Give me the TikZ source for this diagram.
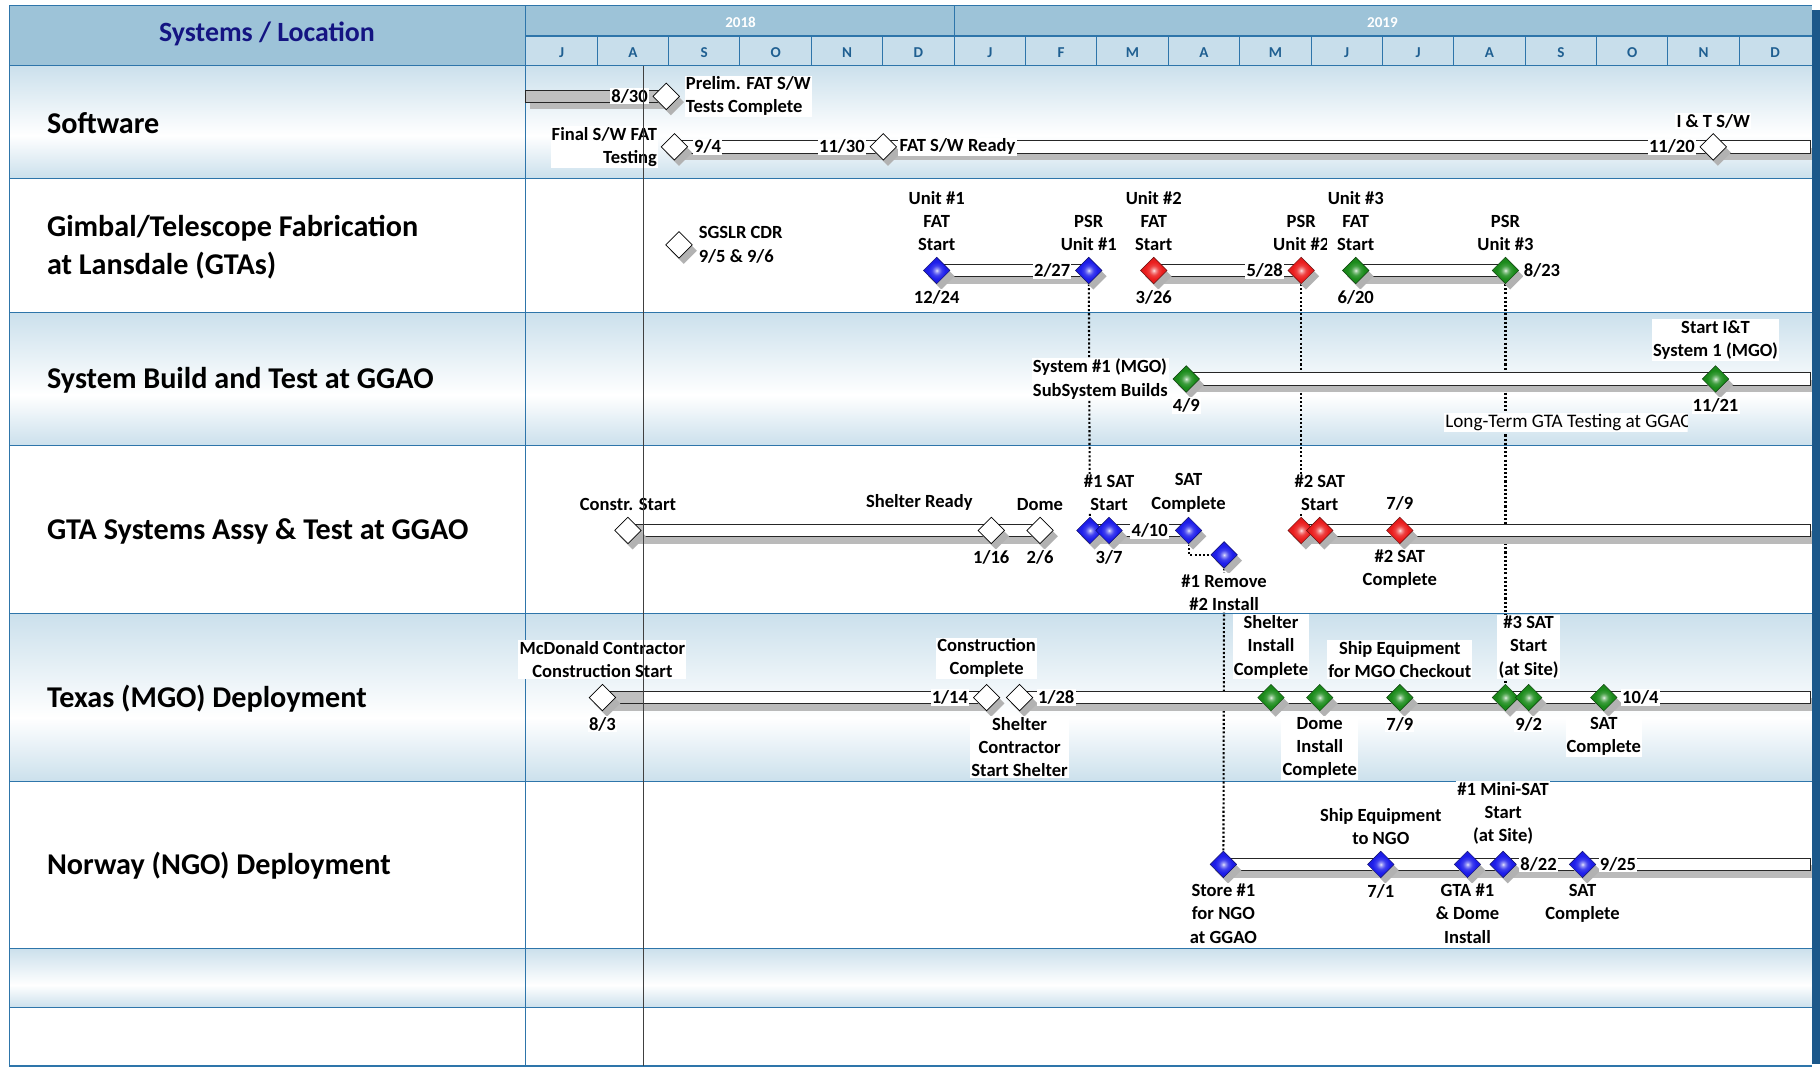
\documentclass[tikz,border=0pt]{standalone}
\usepackage{fontspec}
\setmainfont{Carlito}
\usepackage{tikz}
\usetikzlibrary{shapes.geometric, positioning, calc, shadows}

\definecolor{hdrdark}{RGB}{157,195,216}
\definecolor{hdrlight}{RGB}{200,222,235}
\definecolor{rowblue}{RGB}{203,224,236}
\definecolor{gridblue}{RGB}{46,117,170}
\definecolor{navytxt}{RGB}{20,20,130}
\definecolor{monthtxt}{RGB}{31,95,145}
\definecolor{edgeblue}{RGB}{28,88,138}
\definecolor{msblue}{RGB}{30,30,235}
\definecolor{msred}{RGB}{235,30,30}
\definecolor{msgreen}{RGB}{28,140,28}

\pgfdeclareradialshading{blueglow}{\pgfpointorigin}{color(0bp)=(msblue!10!white); color(3bp)=(msblue!45!white); color(9bp)=(msblue!85!white); color(16bp)=(msblue); color(25bp)=(msblue!92!black); color(50bp)=(msblue!92!black)}
\pgfdeclareradialshading{redglow}{\pgfpointorigin}{color(0bp)=(msred!10!white); color(3bp)=(msred!45!white); color(9bp)=(msred!85!white); color(16bp)=(msred); color(25bp)=(msred!92!black); color(50bp)=(msred!92!black)}
\pgfdeclareradialshading{greenglow}{\pgfpointorigin}{color(0bp)=(msgreen!10!white); color(3bp)=(msgreen!45!white); color(9bp)=(msgreen!85!white); color(16bp)=(msgreen); color(25bp)=(msgreen!92!black); color(50bp)=(msgreen!92!black)}

\pgfdeclarelayer{back}
\pgfdeclarelayer{dots}
\pgfdeclarelayer{bars}
\pgfsetlayers{back,dots,bars,main}

\begin{document}
\begin{tikzpicture}[
    x=1pt, y=-1pt,
    ms/.style={diamond, draw=black, inner sep=0pt, minimum width=23pt, minimum height=23pt,
      drop shadow={shadow xshift=4pt, shadow yshift=-5pt, fill=black!30, opacity=1}},
    whitems/.style={ms, fill=white, line width=0.6pt},
    bluems/.style={ms, draw=msblue!45!black, shade, shading=blueglow},
    redms/.style={ms, draw=msred!45!black, shade, shading=redglow},
    greenms/.style={ms, draw=msgreen!45!black, shade, shading=greenglow},
    lbl/.style={font=\bfseries\fontsize{16}{20}\selectfont, fill=white, inner sep=1pt, align=center},
    rowlbl/.style={font=\bfseries\fontsize{26}{32}\selectfont, anchor=west, align=left},
    bar/.style={draw=black!85, fill=white, line width=0.7pt,
      drop shadow={shadow xshift=4pt, shadow yshift=-6pt, fill=black!27, opacity=1}},
    donebar/.style={bar, fill=black!25},
    link/.style={dash pattern=on 1.8pt off 1.8pt, line width=1.8pt},
    gridline/.style={gridblue, line width=0.9pt}
]
\useasboundingbox (0,0) rectangle (1568,920);

\begin{pgfonlayer}{back}
  \fill[white] (0,0) rectangle (1568,920);
  \fill[hdrdark] (8,5) rectangle (1561,31);
  \fill[hdrdark] (8,5) rectangle (453,56.5);
  \fill[hdrlight] (453,31) rectangle (1561,56.5);
  \foreach \ya/\yb in {56.5/153.5, 269/384, 528.4/673.5, 817/868} {
    \shade[top color=rowblue, bottom color=white] (8,\ya) rectangle (1561,{\ya+0.62*(\yb-\ya)});
    \shade[top color=white, bottom color=rowblue] (8,{\ya+0.62*(\yb-\ya)}) rectangle (1561,\yb);
  }
  \foreach \yy in {5, 56.5, 153.5, 269, 384, 528.4, 673.5, 817, 868, 918.4}
    \draw[gridline] (8,\yy) -- (1561,\yy);
  \draw[gridline] (453,31) -- (1561,31);
  \draw[gridline] (8,5) -- (8,918.4);
  \draw[gridline] (453,5) -- (453,918.4);
  \draw[gridline] (822,5) -- (822,31);
  \foreach \m [count=\i from 0] in {J,A,S,O,N,D,J,F,M,A,M,J,J,A,S,O,N,D} {
    \draw[gridline] ({453+61.5*\i},31) -- ({453+61.5*\i},56.5);
    \node (m\i) [text=monthtxt, font=\bfseries\fontsize{13}{15}\selectfont] at ({453+61.5*(\i+0.5)},45) {\m};
  }
\end{pgfonlayer}

\node (hdr) [text=navytxt, font=\bfseries\fontsize{24}{28}\selectfont] at (230,29) {Systems / Location};
\node (y2018) [text=white, font=\bfseries\fontsize{13}{15}\selectfont] at (638,19.5) {2018};
\node (y2019) [text=white, font=\bfseries\fontsize{13}{15}\selectfont] at (1191,19.5) {2019};

\node (rSoft) [rowlbl] at (37,106) {Software};
\node (rGimbal) [rowlbl] at (37,213) {Gimbal/Telescope Fabrication\\at Lansdale (GTAs)};
\node (rBuild) [rowlbl] at (37,328) {System Build and Test at GGAO};
\node (rGta) [rowlbl] at (37,458) {GTA Systems Assy \& Test at GGAO};
\node (rTexas) [rowlbl] at (37,602) {Texas (MGO) Deployment};
\node (rNorway) [rowlbl] at (37,746) {Norway (NGO) Deployment};

\coordinate (today) at (554,56.5);
\coordinate (todayEnd) at (554,918.4);
\coordinate (swStart) at (453,83);
\coordinate (swEnd) at (1560,126.5);
\coordinate (sbEnd) at (1560,326.5);
\coordinate (gtEnd) at (1560,457);
\coordinate (txEnd) at (1560,601);
\coordinate (nwEnd) at (1560,744.7);

\node (sw1) [whitems] at (574,83) {};
\node (sw2) [whitems] at (581,126.5) {};
\node (sw3) [whitems] at (761,126.5) {};
\node (sw4) [whitems] at (1476,126.5) {};
\node (sw1d) [lbl, left=3pt of sw1] {8/30};
\node (sw1t) [lbl, right=4pt of sw1, align=left] {Prelim. FAT S/W\\Tests Complete};
\node (sw2t) [lbl, left=2pt of sw2, align=right] {Final S/W FAT\\Testing};
\node (sw2d) [lbl, right=4pt of sw2] {9/4};
\node (sw3d) [lbl, left=3pt of sw3] {11/30};
\node (sw3t) [lbl, right=1pt of sw3] {FAT S/W Ready};
\node (sw4d) [lbl, left=3pt of sw4] {11/20};
\node (sw4t) [lbl, above=3pt of sw4] {I \& T S/W};

\node (cdr) [whitems] at (585,211) {};
\node (cdrt) [lbl, right=4pt of cdr, align=left] {SGSLR CDR\\9/5 \& 9/6};
\node (gb1) [bluems] at (807,233) {};
\node (gb2) [bluems] at (938,233) {};
\node (gb3) [redms] at (994,233) {};
\node (gb4) [redms] at (1121,233) {};
\node (gb5) [greenms] at (1168,233) {};
\node (gb6) [greenms] at (1297,233) {};
\node (gb1t) [lbl, above=4pt of gb1] {Unit \#1\\FAT\\Start};
\node (gb1d) [lbl, below=4pt of gb1] {12/24};
\node (gb2t) [lbl, above=4pt of gb2] {PSR\\Unit \#1};
\node (gb2d) [lbl, left=3pt of gb2] {2/27};
\node (gb3t) [lbl, above=4pt of gb3] {Unit \#2\\FAT\\Start};
\node (gb3d) [lbl, below=4pt of gb3] {3/26};
\node (gb4t) [lbl, above=4pt of gb4] {PSR\\Unit \#2};
\node (gb4d) [lbl, left=3pt of gb4] {5/28};
\node (gb5t) [lbl, above=4pt of gb5] {Unit \#3\\FAT\\Start};
\node (gb5d) [lbl, below=4pt of gb5] {6/20};
\node (gb6t) [lbl, above=4pt of gb6] {PSR\\Unit \#3};
\node (gb6d) [lbl, right=3pt of gb6] {8/23};

\node (sb1) [greenms] at (1022,326.5) {};
\node (sb2) [greenms] at (1478,326.5) {};
\node (sb1t) [lbl, left=3pt of sb1, align=left] {System \#1 (MGO)\\SubSystem Builds};
\node (sb1d) [lbl, below=4pt of sb1] {4/9};
\node (sb2t) [lbl, above=4pt of sb2] {Start I\&T\\System 1 (MGO)};
\node (sb2d) [lbl, below=4pt of sb2] {11/21};
\begin{scope}
  \clip (1240,350) rectangle (1454,378);
  \node (longterm) [lbl, font=\fontsize{16.5}{20}\selectfont, anchor=west] at (1244,364) {Long-Term GTA Testing at GGAO};
\end{scope}

\node (gt1) [whitems] at (541,457) {};
\node (gt2) [whitems] at (854,457) {};
\node (gt3) [whitems] at (896,457) {};
\node (gt4) [bluems] at (939,457) {};
\node (gt5) [bluems] at (955.5,457) {};
\node (gt6) [bluems] at (1024,457) {};
\node (gt7) [bluems] at (1054.6,478) {};
\node (gt8) [redms] at (1121,457) {};
\node (gt9) [redms] at (1137,457) {};
\node (gt10) [redms] at (1206,457) {};
\node (gt1t) [lbl, above=4pt of gt1] {Constr. Start};
\node (gt2t) [lbl, above=4pt of gt2, xshift=-62pt] {Shelter Ready};
\node (gt2d) [lbl, below=4pt of gt2] {1/16};
\node (gt3t) [lbl, above=4pt of gt3] {Dome};
\node (gt3d) [lbl, below=4pt of gt3] {2/6};
\node (gt5t) [lbl, above=4pt of gt5] {\#1 SAT\\Start};
\node (gt5d) [lbl, below=4pt of gt5] {3/7};
\node (gt6t) [lbl, above=3pt of gt6] {SAT\\Complete};
\node (gt6d) [lbl, left=5pt of gt6] {4/10};
\node (gt7t) [lbl, below=4pt of gt7] {\#1 Remove\\\#2 Install};
\node (gt9t) [lbl, above=4pt of gt9] {\#2 SAT\\Start};
\node (gt10t) [lbl, above=4pt of gt10] {7/9};
\node (gt10b) [lbl, below=4pt of gt10] {\#2 SAT\\Complete};

\node (tx1) [whitems] at (519,601) {};
\node (tx2) [whitems] at (850,601) {};
\node (tx3) [whitems] at (878.4,601) {};
\node (tx4) [greenms] at (1095,601) {};
\node (tx5) [greenms] at (1137,601) {};
\node (tx6) [greenms] at (1206,601) {};
\node (tx7) [greenms] at (1297,601) {};
\node (tx8) [greenms] at (1317,601) {};
\node (tx9) [greenms] at (1381.7,601) {};
\node (tx1t) [lbl, above=4pt of tx1] {McDonald Contractor\\Construction Start};
\node (tx1d) [lbl, below=4pt of tx1] {8/3};
\node (tx2t) [lbl, above=4pt of tx2] {Construction\\Complete};
\node (tx2d) [lbl, left=3pt of tx2] {1/14};
\node (tx3d) [lbl, right=3pt of tx3] {1/28};
\node (tx3t) [lbl, below=4pt of tx3] {Shelter\\Contractor\\Start Shelter};
\node (tx4t) [lbl, above=4pt of tx4] {Shelter\\Install\\Complete};
\node (tx5t) [lbl, below=4pt of tx5] {Dome\\Install\\Complete};
\node (tx6t) [lbl, above=4pt of tx6] {Ship Equipment\\for MGO Checkout};
\node (tx6d) [lbl, below=4pt of tx6] {7/9};
\node (tx8t) [lbl, above=4pt of tx8] {\#3 SAT\\Start\\(at Site)};
\node (tx8d) [lbl, below=4pt of tx8] {9/2};
\node (tx9d) [lbl, right=3pt of tx9] {10/4};
\node (tx9t) [lbl, below=4pt of tx9] {SAT\\Complete};

\node (nw1) [bluems] at (1054,744.7) {};
\node (nw2) [bluems] at (1189.6,744.7) {};
\node (nw3) [bluems] at (1264.3,744.7) {};
\node (nw4) [bluems] at (1295,744.7) {};
\node (nw5) [bluems] at (1363.4,744.7) {};
\node (nw1t) [lbl, below=4pt of nw1] {Store \#1\\for NGO\\at GGAO};
\node (nw2t) [lbl, above=4pt of nw2] {Ship Equipment\\to NGO};
\node (nw2d) [lbl, below=4pt of nw2] {7/1};
\node (nw3t) [lbl, below=4pt of nw3] {GTA \#1\\\& Dome\\Install};
\node (nw4t) [lbl, above=4pt of nw4] {\#1 Mini-SAT\\Start\\(at Site)};
\node (nw4d) [lbl, right=2pt of nw4] {8/22};
\node (nw5d) [lbl, right=2pt of nw5] {9/25};
\node (nw5t) [lbl, below=4pt of nw5] {SAT\\Complete};

\begin{pgfonlayer}{bars}
  \draw[donebar] ($(swStart)+(0,-5.3)$) rectangle ($(sw1)+(0,5.3)$);
  \draw[bar] ($(sw2)+(0,-5.3)$) rectangle ($(swEnd)+(0,5.3)$);
  \draw[bar] ($(gb1)+(0,-5.3)$) rectangle ($(gb2)+(0,5.3)$);
  \draw[bar] ($(gb3)+(0,-5.3)$) rectangle ($(gb4)+(0,5.3)$);
  \draw[bar] ($(gb5)+(0,-5.3)$) rectangle ($(gb6)+(0,5.3)$);
  \draw[bar] ($(sb1)+(0,-5.3)$) rectangle ($(sbEnd)+(0,5.3)$);
  \draw[donebar] ($(gt1)+(0,-5.3)$) rectangle ($(today |- gt1)+(0,5.3)$);
  \draw[bar] ($(today |- gt1)+(0,-5.3)$) rectangle ($(gt3)+(0,5.3)$);
  \draw[bar] ($(gt4)+(0,-5.3)$) rectangle ($(gt6)+(0,5.3)$);
  \draw[bar] ($(gt8)+(0,-5.3)$) rectangle ($(gtEnd)+(0,5.3)$);
  \draw[donebar] ($(tx1)+(0,-5.3)$) rectangle ($(today |- tx1)+(0,5.3)$);
  \draw[bar] ($(today |- tx1)+(0,-5.3)$) rectangle ($(tx2)+(0,5.3)$);
  \draw[bar] ($(tx3)+(0,-5.3)$) rectangle ($(txEnd)+(0,5.3)$);
  \draw[bar] ($(nw1)+(0,-5.3)$) rectangle ($(nwEnd)+(0,5.3)$);
\end{pgfonlayer}

\begin{pgfonlayer}{dots}
  \draw[link] (gb2) -- (gt4);
  \draw[link] (gb4) -- (gt8);
  \draw[link] (gb6) -- (tx7);
  \draw[link] (gt6) |- (gt7);
  \draw[link] (gt7) -- (nw1);
\end{pgfonlayer}

\fill[edgeblue] (1561,9) rectangle (1568,917);
\draw[black!75, line width=0.8pt] (today) -- (todayEnd);
\end{tikzpicture}
\end{document}
